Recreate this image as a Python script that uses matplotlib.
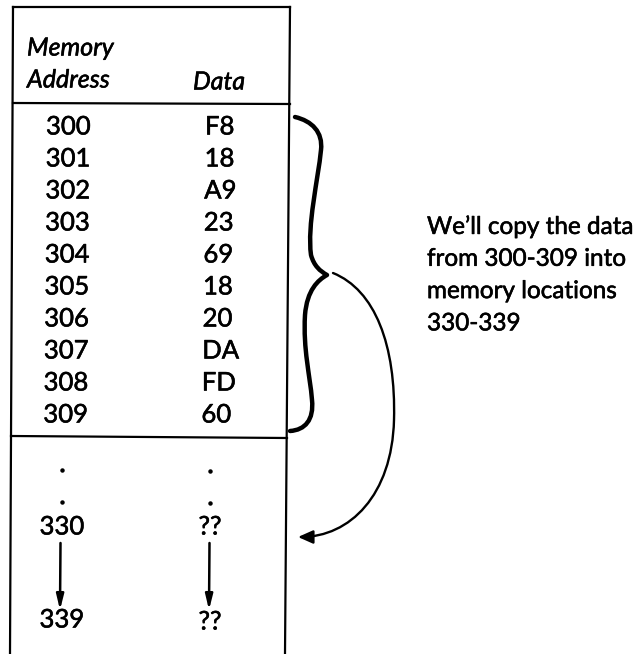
import matplotlib
matplotlib.use("Agg")
import matplotlib.pyplot as plt
import matplotlib.patheffects as pe
from matplotlib.path import Path
from matplotlib.patches import FancyArrowPatch, PathPatch

addresses = ["300", "301", "302", "303", "304", "305", "306", "307", "308", "309"]
data_values = ["F8", "18", "A9", "23", "69", "18", "20", "DA", "FD", "60"]
target_start = ["330", "??"]
target_end = ["339", "??"]
header_addr = ["Memory", "Address"]
header_data = "Data"
note_lines = ["We\u2019ll copy the data", "from 300-309 into", "memory locations", "330-339"]

FONT = ["Lato", "DejaVu Sans"]
STROKE = [pe.withStroke(linewidth=0.4, foreground="black")]
fig = plt.figure(figsize=(6.38, 6.54), dpi=100)
ax = fig.add_axes([0, 0, 1, 1])
ax.set_xlim(0, 638)
ax.set_ylim(654, 0)
ax.axis("off")


def txt(x, y, s, size=18.5, **kw):
    ax.text(x, y, s, fontsize=size, family=FONT, va="center",
            path_effects=STROKE, **kw)


lw = 1.6
# table frame
ax.plot([13, 10], [7, 654], color="black", lw=lw)
ax.plot([290, 285], [7, 654], color="black", lw=lw)
ax.plot([13, 290], [7, 7], color="black", lw=lw)
ax.plot([13, 290], [103, 104], color="black", lw=lw)
ax.plot([11, 287], [436, 438], color="black", lw=lw)

# header
txt(27, 48, header_addr[0], 18, style="italic", ha="left")
txt(27, 80, header_addr[1], 18, style="italic", ha="left")
txt(193, 82, header_data, 18, style="italic", ha="left")

# rows
for i, (a, d) in enumerate(zip(addresses, data_values)):
    y = 127 + i * 32.0
    txt(46 - i * 0.3, y, a, ha="left")
    txt(205 - i * 0.4, y, d, ha="left")

# dots
ax.plot([62, 62, 210, 210], [470, 502, 471, 503], "o", color="black", ms=2.2)

# target rows
txt(62, 527, target_start[0], ha="center")
txt(210, 527, target_start[1], ha="center")
txt(62, 620, target_end[0], ha="center")
txt(210, 622, target_end[1], ha="center")

for x in (60, 209):
    ax.annotate("", xy=(x, 610), xytext=(x + 0.5, 543),
                arrowprops=dict(arrowstyle="-|>,head_length=0.9,head_width=0.22",
                                color="black", lw=1.8, shrinkA=0, shrinkB=0))

# brace
verts = [(295, 117),
         (312, 121), (323, 132), (321, 150),
         (318, 180), (307, 225), (311, 255),
         (314, 266), (320, 271), (327, 275),
         (318, 280), (307, 290), (305, 315),
         (303, 350), (310, 375), (312, 400),
         (314, 420), (305, 430), (290, 431)]
codes = [Path.MOVETO] + [Path.CURVE4] * 18
ax.add_patch(PathPatch(Path(verts, codes), fill=False, lw=3.2, color="black",
                       capstyle="round", joinstyle="round"))

# curved arrow
averts = [(333, 273),
          (375, 290), (396, 345), (394, 420),
          (392, 495), (350, 537), (298, 537)]
acodes = [Path.MOVETO] + [Path.CURVE4] * 6
ax.add_patch(FancyArrowPatch(path=Path(averts, acodes),
                             arrowstyle="-|>,head_length=9,head_width=4",
                             color="black", lw=1.7, shrinkA=0, shrinkB=0))

# note
for k, line in enumerate(note_lines):
    txt(427, 227 + k * 32.3, line, 17.5, ha="left")

fig.savefig("out.png", dpi=100)
